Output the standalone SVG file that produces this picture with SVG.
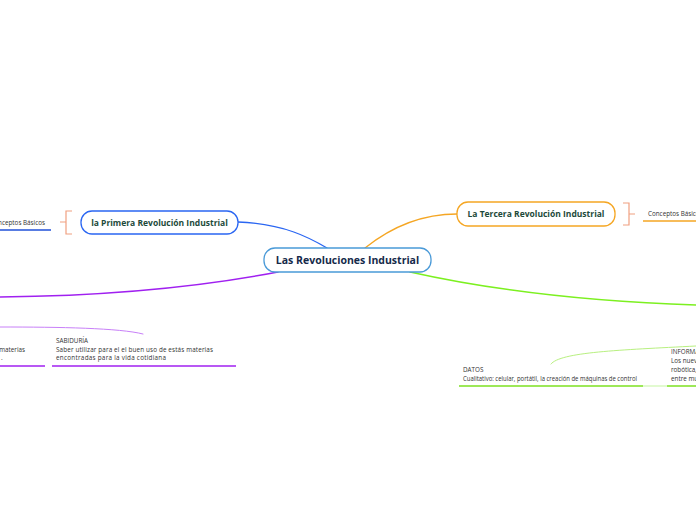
<svg xmlns="http://www.w3.org/2000/svg" width="696" height="520" viewBox="0 0 696 520">
<style>
.t{font-family:"Open Sans","Noto Sans","Liberation Sans",sans-serif;}
.main{font-size:10.5px;font-weight:bold;fill:#152a4a;}
.sub{font-size:8.5px;font-weight:bold;fill:#1d4a3a;}
.sm{font-size:6.3px;fill:#333;}
.node{fill:#fff;stroke-width:1.3;}
.c{fill:none;stroke-linecap:round;}
</style>
<rect width="696" height="520" fill="#fff"/>
<g id="connectors">
<path class="c" d="M238,222 C285,224 310,238 327,248" stroke="#2a66f2" stroke-width="1.3"/>
<path class="c" d="M365,248 C390,228 420,214 457,214" stroke="#f5a623" stroke-width="1.3"/>
<path class="c" d="M278,272 C200,287 100,296 0,297" stroke="#a020f0" stroke-width="1.5"/>
<path class="c" d="M410,272 C500,292 600,302 696,305" stroke="#7cf020" stroke-width="1.5"/>
<path class="c" d="M0,327 C60,327 120,328 143,334" stroke="#c880f8" stroke-width="1"/>
<path class="c" d="M551,364 C560,352 620,350 696,346" stroke="#b8f080" stroke-width="1"/>
<path d="M60,222 H66 M72,211 H66 V234 H72" fill="none" stroke="#f0a080" stroke-width="1.2"/>
<path d="M635,214 H629 M623,203 H629 V225 H623" fill="none" stroke="#f0a080" stroke-width="1.2"/>
<line x1="0" y1="230" x2="51" y2="230" stroke="#2050d8" stroke-width="1.5"/>
<line x1="643" y1="221" x2="696" y2="221" stroke="#f5a623" stroke-width="1.5"/>
<line x1="0" y1="366" x2="45" y2="366" stroke="#a020f0" stroke-width="1.5"/>
<line x1="52" y1="366" x2="236" y2="366" stroke="#a020f0" stroke-width="1.5"/>
<line x1="459" y1="386" x2="643" y2="386" stroke="#7ce020" stroke-width="1.5"/>
<line x1="643" y1="386" x2="667" y2="386" stroke="#d8f8c0" stroke-width="1.5"/>
<line x1="667" y1="386" x2="696" y2="386" stroke="#7ce020" stroke-width="1.5"/>
</g>
<g id="central">
<rect class="node" x="264" y="248" width="167" height="24" rx="11" stroke="#4a9ad8"/>
<text class="t main" x="347.5" y="264" text-anchor="middle">Las Revoluciones Industrial</text>
</g>
<g id="primera">
<rect class="node" x="81" y="211" width="157" height="23" rx="11" stroke="#2a66f2"/>
<text class="t sub" x="159.5" y="225.5" text-anchor="middle">la Primera Revolución Industrial</text>
</g>
<g id="tercera">
<rect class="node" x="457" y="202" width="158" height="24" rx="11" stroke="#f5a623"/>
<text class="t sub" x="536" y="217" text-anchor="middle">La Tercera Revolución Industrial</text>
</g>
<g id="conceptos-1">
<text class="t sm" x="45" y="224.5" text-anchor="end">Conceptos Básicos</text>
</g>
<g id="conceptos-3">
<text class="t sm" x="648" y="216">Conceptos Básicos</text>
</g>
<g id="materias">
<text class="t sm" x="25" y="351.5" text-anchor="end">materias</text>
<text class="t sm" x="1" y="360">.</text>
</g>
<g id="sabiduria">
<text class="t sm" x="56" y="343">SABIDURÍA</text>
<text class="t sm" x="56" y="351.5" textLength="157" lengthAdjust="spacing">Saber utilizar para el el buen uso de estás materias</text>
<text class="t sm" x="56" y="360" textLength="110" lengthAdjust="spacing">encontradas para la vida cotidiana</text>
</g>
<g id="datos">
<text class="t sm" x="463" y="371.5">DATOS</text>
<text class="t sm" x="463" y="380.5" textLength="174" lengthAdjust="spacingAndGlyphs">Cualitativo: celular, portátil, la creación de máquinas de control</text>
</g>
<g id="informacion">
<text class="t sm" x="671" y="353.5">INFORMACIÓN</text>
<text class="t sm" x="671" y="362.5">Los nuevos</text>
<text class="t sm" x="671" y="371.5">robótica,</text>
<text class="t sm" x="671" y="380.5">entre muchos</text>
</g>
</svg>
